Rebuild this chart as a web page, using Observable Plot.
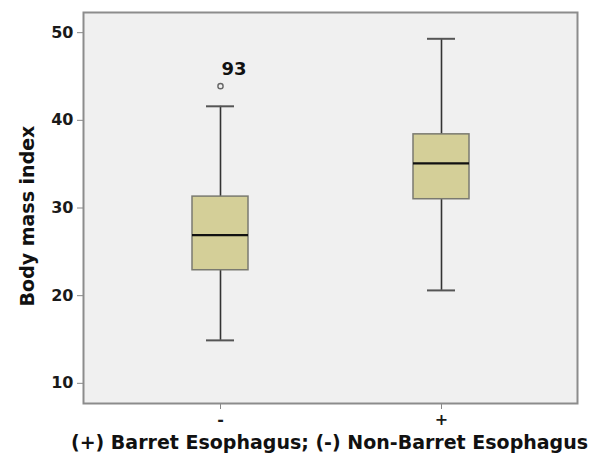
<!DOCTYPE html>
<html>
<head>
<meta charset="utf-8">
<script src="https://cdn.jsdelivr.net/npm/d3@7"></script>
<script src="https://cdn.jsdelivr.net/npm/@observablehq/plot@0.6"></script>
<style>
  html, body { margin: 0; padding: 0; background: #ffffff; }
  #chart { width: 601px; height: 457px; }
</style>
</head>
<body>
<div id="chart"></div>
<script>
// ---- data ----
const groups = ["-", "+"];
const whiskerLow = [14.9, 20.6];
const quartile1 = [22.9, 31.0];
const medians = [26.9, 35.1];
const quartile3 = [31.3, 38.4];
const whiskerHigh = [41.6, 49.3];
const outlierGroups = ["-"];
const outlierValues = [43.9];
const outlierLabels = ["93"];
const yTicks = [10, 20, 30, 40, 50];
const yTitle = "Body mass index";
const xTitle = "(+) Barret Esophagus; (-) Non-Barret Esophagus";

const boxes = groups.map((g, i) => ({
  group: g, lo: whiskerLow[i], q1: quartile1[i], med: medians[i], q3: quartile3[i], hi: whiskerHigh[i]
}));
const outliers = outlierGroups.map((g, i) => ({group: g, value: outlierValues[i], label: outlierLabels[i]}));

const font = "'DejaVu Sans', Verdana, sans-serif";

const chart = Plot.plot({
  width: 601,
  height: 457,
  marginLeft: 83,
  marginRight: 24,
  marginTop: 12,
  marginBottom: 54,
  style: {fontFamily: font, fontSize: "16px", fontWeight: "bold", color: "#1a1a1a", background: "#ffffff"},
  x: {domain: groups, paddingInner: 0.748, paddingOuter: 0.489, label: null, tickSize: 6, tickPadding: 4},
  y: {domain: [7.7, 52.3], ticks: yTicks, label: null, tickSize: 6, tickPadding: 4},
  marks: [
    Plot.frame({fill: "#f0f0f0", stroke: "none"}),
    // whiskers
    Plot.ruleX(boxes, {x: "group", y1: "lo", y2: "q1", stroke: "#333333", strokeWidth: 1.6}),
    Plot.ruleX(boxes, {x: "group", y1: "q3", y2: "hi", stroke: "#333333", strokeWidth: 1.6}),
    // caps
    Plot.tickY(boxes, {x: "group", y: "lo", stroke: "#555555", strokeWidth: 2, insetLeft: 14, insetRight: 14}),
    Plot.tickY(boxes, {x: "group", y: "hi", stroke: "#555555", strokeWidth: 2, insetLeft: 14, insetRight: 14}),
    // boxes
    Plot.barY(boxes, {x: "group", y1: "q1", y2: "q3", fill: "#d4cf98", stroke: "#7a7a70", strokeWidth: 1.5}),
    // median
    Plot.tickY(boxes, {x: "group", y: "med", stroke: "#111111", strokeWidth: 2.2}),
    // outliers
    Plot.dot(outliers, {x: "group", y: "value", r: 2.6, stroke: "#666666", strokeWidth: 1.4, fill: "#f0f0f0"}),
    Plot.text(outliers, {x: "group", y: "value", text: "label", dx: 1, dy: -17, textAnchor: "start", fontSize: 18, fontWeight: "bold", fill: "#111111"}),
    // frame border
    Plot.frame({stroke: "#8c8c8c", strokeWidth: 2}),
    // axis titles
    Plot.text([yTitle], {frameAnchor: "left", text: d => d, rotate: -90, textAnchor: "middle", lineAnchor: "middle", dx: -56, dy: 8, fontSize: 19, fontWeight: "bold", fill: "#111111"}),
    Plot.text([xTitle], {frameAnchor: "bottom", text: d => d, textAnchor: "middle", lineAnchor: "middle", dx: -1, dy: 39, fontSize: 19, fontWeight: "bold", fill: "#111111"})
  ]
});

// tick line colors
chart.querySelectorAll("[aria-label='x-axis'] path, [aria-label='y-axis'] path, [aria-label='x-axis tick'] path, [aria-label='y-axis tick'] path").forEach(p => p.setAttribute("stroke", "#888888"));
document.getElementById("chart").appendChild(chart);
</script>
</body>
</html>
